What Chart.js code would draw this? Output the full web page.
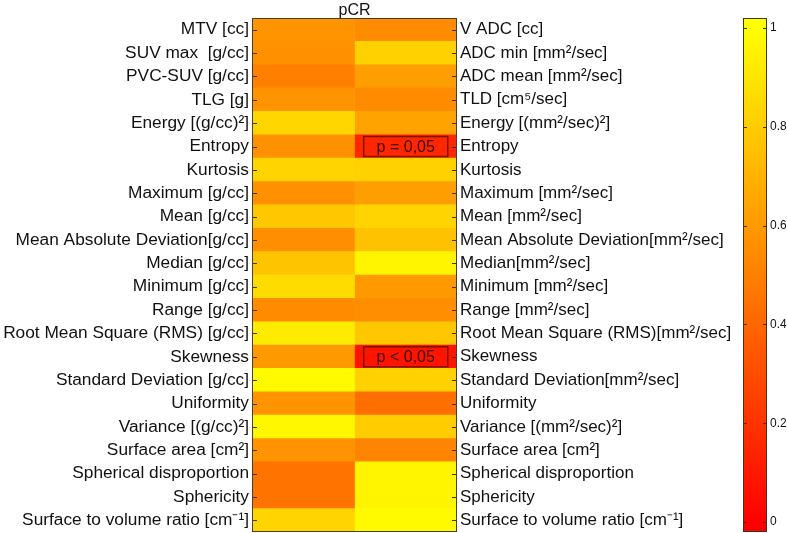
<!DOCTYPE html>
<html><head><meta charset="utf-8">
<script src="https://cdn.jsdelivr.net/npm/chart.js@4/dist/chart.umd.min.js"></script>
<style>
html,body{margin:0;padding:0;background:#fff;}
#wrap{position:relative;width:787px;height:533px;}
#main{position:absolute;left:0;top:0;}
#cb{position:absolute;left:735px;top:0;}
</style></head>
<body><div id="wrap"><canvas id="main" width="787" height="533"></canvas><canvas id="cb" width="52" height="533"></canvas></div>
<script>
const leftLabels = ["MTV [cc]","SUV max  [g/cc]","PVC-SUV [g/cc]","TLG [g]","Energy [(g/cc)²]","Entropy","Kurtosis","Maximum [g/cc]","Mean [g/cc]","Mean Absolute Deviation[g/cc]","Median [g/cc]","Minimum [g/cc]","Range [g/cc]","Root Mean Square (RMS) [g/cc]","Skewness","Standard Deviation [g/cc]","Uniformity","Variance [(g/cc)²]","Surface area [cm²]","Spherical disproportion","Sphericity","Surface to volume ratio [cm⁻¹]"];
const rightLabels = ["V ADC [cc]","ADC min [mm²/sec]","ADC mean [mm²/sec]","TLD [cm⁵/sec]","Energy [(mm²/sec)²]","Entropy","Kurtosis","Maximum [mm²/sec]","Mean [mm²/sec]","Mean Absolute Deviation[mm²/sec]","Median[mm²/sec]","Minimum [mm²/sec]","Range [mm²/sec]","Root Mean Square (RMS)[mm²/sec]","Skewness","Standard Deviation[mm²/sec]","Uniformity","Variance [(mm²/sec)²]","Surface area [cm²]","Spherical disproportion","Sphericity","Surface to volume ratio [cm⁻¹]"];
const petValues = [0.58,0.57,0.50,0.58,0.84,0.57,0.83,0.57,0.78,0.56,0.77,0.86,0.55,0.92,0.60,0.98,0.58,0.97,0.58,0.45,0.45,0.83];
const adcValues = [0.55,0.82,0.62,0.55,0.64,0.15,0.82,0.62,0.83,0.76,0.96,0.60,0.56,0.78,0.08,0.82,0.43,0.80,0.52,0.96,0.96,0.98];
const colorbarTicks = [0,0.2,0.4,0.6,0.8,1];
const annotations = [{row:5,col:1,text:"p = 0,05"},{row:14,col:1,text:"p < 0,05"}];
const title = "pCR";

function autumn(v){v=Math.max(0,Math.min(1,v));return `rgb(255,${Math.round(255*v)},0)`;}
const FONT = "'Liberation Sans', Arial, sans-serif";
function noPad(s){s.paddingTop=0;s.paddingBottom=0;s.paddingLeft=0;s.paddingRight=0;}

const framePlugin = {
  id:'frame',
  afterDatasetsDraw(chart){
    const {ctx, chartArea:a, scales} = chart;
    const y = scales.y, x = scales.x;
    ctx.save();
    annotations.forEach(an=>{
      const x0 = x.getPixelForValue(an.col+0.09), x1 = x.getPixelForValue(an.col+0.91);
      const yc = y.getPixelForValue(an.row);
      ctx.strokeStyle='#7a1500'; ctx.lineWidth=1.5;
      ctx.strokeRect(x0,yc-10,x1-x0,20);
      ctx.fillStyle='#3a0800'; ctx.font="16px "+FONT; ctx.textAlign='center'; ctx.textBaseline='middle';
      ctx.fillText(an.text,(x0+x1)/2,yc+1);
    });
    ctx.strokeStyle='#3a3420'; ctx.lineWidth=1;
    y.ticks.forEach((t,i)=>{
      const py = Math.round(y.getPixelForTick(i))+0.5;
      ctx.beginPath(); ctx.moveTo(a.left,py); ctx.lineTo(a.left+5,py);
      ctx.moveTo(a.right-5,py); ctx.lineTo(a.right,py); ctx.stroke();
    });
    ctx.strokeStyle='#4a4020';
    ctx.strokeRect(a.left+0.5,a.top+0.5,a.right-a.left-1,a.bottom-a.top-1);
    ctx.restore();
  }
};

new Chart(document.getElementById('main'),{
  type:'bar',
  data:{labels:leftLabels,datasets:[
    {data:petValues.map(()=>[0,1]),backgroundColor:petValues.map(autumn),grouped:false,barPercentage:1,categoryPercentage:1,borderWidth:0},
    {data:adcValues.map(()=>[1,2]),backgroundColor:adcValues.map(autumn),grouped:false,barPercentage:1,categoryPercentage:1,borderWidth:0}
  ]},
  options:{
    indexAxis:'y',responsive:false,animation:false,
    layout:{autoPadding:false,padding:{left:0,right:0,top:0,bottom:1}},
    plugins:{legend:{display:false},tooltip:{enabled:false}},
    scales:{
      x:{type:'linear',position:'top',min:0,max:2,grid:{display:false,drawTicks:false},border:{display:false},ticks:{display:false},
         title:{display:true,text:title,color:'#111',font:{family:FONT,size:16},padding:{top:1,bottom:0}},
         afterFit(s){s.height=18;noPad(s);}},
      y:{type:'category',position:'left',offset:true,grid:{display:false,drawTicks:false},border:{display:false},
         ticks:{autoSkip:false,color:'#111',padding:3,font:{family:FONT,size:17.3}},
         afterFit(s){s.width=252;noPad(s);}},
      y2:{type:'category',position:'right',labels:rightLabels,offset:true,grid:{display:false,drawTicks:false},border:{display:false},
         ticks:{autoSkip:false,color:'#111',padding:3,font:{family:FONT,size:17}},
         afterFit(s){s.width=330;noPad(s);}}
    }
  },
  plugins:[framePlugin]
});

const cbPlugin = {
  id:'cbframe',
  afterDatasetsDraw(chart){
    const {ctx, chartArea:a, scales} = chart; const y = scales.y;
    ctx.save(); ctx.strokeStyle='#3a3420'; ctx.lineWidth=1;
    colorbarTicks.forEach(v=>{
      const py = Math.round(y.getPixelForValue(v))+0.5;
      ctx.beginPath(); ctx.moveTo(a.left,py); ctx.lineTo(a.left+4,py);
      ctx.moveTo(a.right-4,py); ctx.lineTo(a.right,py); ctx.stroke();
    });
    ctx.strokeRect(a.left+0.5,a.top+0.5,a.right-a.left-1,a.bottom-a.top-1);
    ctx.restore();
  }
};

new Chart(document.getElementById('cb'),{
  type:'bar',
  data:{labels:['cb'],datasets:[{data:[[-0.02,1.02]],barPercentage:1,categoryPercentage:1,borderWidth:0,
    backgroundColor(c){
      const ch=c.chart; if(!ch.chartArea||!ch.scales.y) return 'orange';
      const y=ch.scales.y;
      const g=ch.ctx.createLinearGradient(0,y.getPixelForValue(0),0,y.getPixelForValue(1));
      g.addColorStop(0,autumn(0)); g.addColorStop(0.5,autumn(0.5)); g.addColorStop(1,autumn(1));
      return g;
    }}]},
  options:{
    responsive:false,animation:false,
    layout:{autoPadding:false,padding:{left:8,right:0,top:18,bottom:1}},
    plugins:{legend:{display:false},tooltip:{enabled:false}},
    scales:{
      x:{display:false},
      y:{type:'linear',position:'right',min:-0.02,max:1.02,grid:{display:false,drawTicks:false},border:{display:false},
         afterBuildTicks(s){s.ticks=colorbarTicks.map(v=>({value:v}));},
         ticks:{color:'#111',padding:3,font:{family:FONT,size:12},callback:v=>String(v)},
         afterFit(s){s.width=20;noPad(s);}}
    }
  },
  plugins:[cbPlugin]
});
</script></body></html>
